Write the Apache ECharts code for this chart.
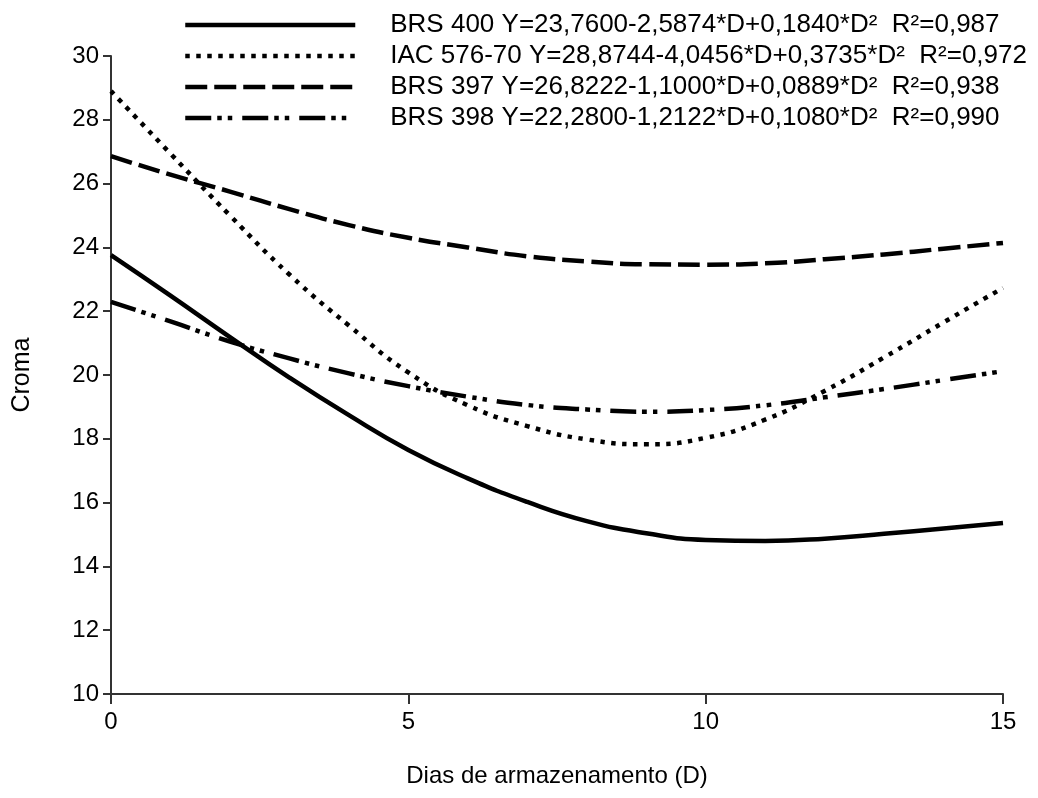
<!DOCTYPE html>
<html>
<head>
<meta charset="utf-8">
<script src="https://cdn.jsdelivr.net/npm/echarts@6/dist/echarts.min.js"></script>
<style>
  html, body { margin: 0; padding: 0; background: #fff; }
  #chart { width: 1038px; height: 798px; }
</style>
</head>
<body>
<div id="chart"></div>
<script>
// dias de armazenamento (D)
const days = [0, 1, 2, 3, 4, 5, 6, 7, 8, 9, 10, 11, 12, 13, 14, 15];

// croma, um valor por dia
const brs400 = [23.76, 22.49, 21.19, 19.92, 18.74, 17.65, 16.76, 16.02, 15.42, 15.04, 14.83, 14.80, 14.87, 15.02, 15.19, 15.36];
const iac576 = [28.90, 26.94, 25.00, 23.15, 21.55, 20.08, 19.05, 18.40, 17.98, 17.83, 18.03, 18.60, 19.50, 20.55, 21.65, 22.73];
const brs397 = [26.86, 26.28, 25.75, 25.20, 24.70, 24.30, 24.00, 23.72, 23.56, 23.47, 23.46, 23.50, 23.63, 23.78, 23.96, 24.14];
const brs398 = [22.29, 21.68, 21.05, 20.52, 20.05, 19.65, 19.32, 19.06, 18.92, 18.85, 18.90, 19.05, 19.30, 19.56, 19.84, 20.12];

const legendLabels = [
  'BRS 400 Y=23,7600-2,5874*D+0,1840*D²  R²=0,987',
  'IAC 576-70 Y=28,8744-4,0456*D+0,3735*D²  R²=0,972',
  'BRS 397 Y=26,8222-1,1000*D+0,0889*D²  R²=0,938',
  'BRS 398 Y=22,2800-1,2122*D+0,1080*D²  R²=0,990'
];

const FONT = 'Liberation Sans, Arial, sans-serif';
const AXIS_COLOR = '#333';

let chartDom = document.getElementById('chart');
let myChart = echarts.init(chartDom);

function pairs(values) {
  return days.map((d, i) => [d, values[i]]);
}

function makeSeries(name, values, type) {
  return {
    name: name,
    type: 'line',
    data: pairs(values),
    smooth: true,
    symbol: 'none',
    showSymbol: false,
    lineStyle: { color: '#000', width: 4.5, type: type, cap: 'butt', join: 'round' },
    itemStyle: { color: '#000' }
  };
}

const option = {
  animation: false,
  backgroundColor: '#fff',
  textStyle: { fontFamily: FONT },
  grid: { left: 111, right: 35, top: 56, bottom: 104 },
  legend: {
    orient: 'vertical',
    left: 178,
    top: 7,
    itemWidth: 170,
    itemHeight: 14,
    itemGap: 5,
    selectedMode: false,
    data: legendLabels,
    itemStyle: { opacity: 0 },
    lineStyle: { width: 4.5, cap: 'butt' },
    textStyle: {
      fontFamily: FONT,
      fontSize: 26,
      color: '#000',
      lineHeight: 26,
      padding: [0, 0, 0, 30]
    }
  },
  xAxis: {
    type: 'value',
    min: 0,
    max: 15,
    interval: 5,
    name: 'Dias de armazenamento (D)',
    nameLocation: 'middle',
    nameGap: 70,
    nameTextStyle: { fontFamily: FONT, fontSize: 24, color: '#000' },
    axisLine: { show: true, onZero: false, lineStyle: { color: AXIS_COLOR, width: 2 } },
    axisTick: { show: true, inside: false, length: 10, lineStyle: { color: AXIS_COLOR, width: 2 } },
    axisLabel: { fontFamily: FONT, fontSize: 24, color: '#000', margin: 16 },
    splitLine: { show: false }
  },
  yAxis: {
    type: 'value',
    min: 10,
    max: 30,
    interval: 2,
    name: 'Croma',
    nameLocation: 'middle',
    nameGap: 76,
    nameRotate: 90,
    nameTextStyle: { fontFamily: FONT, fontSize: 25, color: '#000' },
    axisLine: { show: true, onZero: false, lineStyle: { color: AXIS_COLOR, width: 2 } },
    axisTick: { show: true, inside: false, length: 8, lineStyle: { color: AXIS_COLOR, width: 2 } },
    axisLabel: { fontFamily: FONT, fontSize: 24, color: '#000', margin: 12 },
    splitLine: { show: false }
  },
  series: [
    makeSeries(legendLabels[0], brs400, 'solid'),
    makeSeries(legendLabels[1], iac576, [4.5, 6.5]),
    makeSeries(legendLabels[2], brs397, [22, 7]),
    makeSeries(legendLabels[3], brs398, [26, 6, 4.5, 6, 4.5, 10])
  ]
};

myChart.setOption(option);

window.addEventListener('resize', function() {
  myChart.resize();
});
</script>
</body>
</html>
